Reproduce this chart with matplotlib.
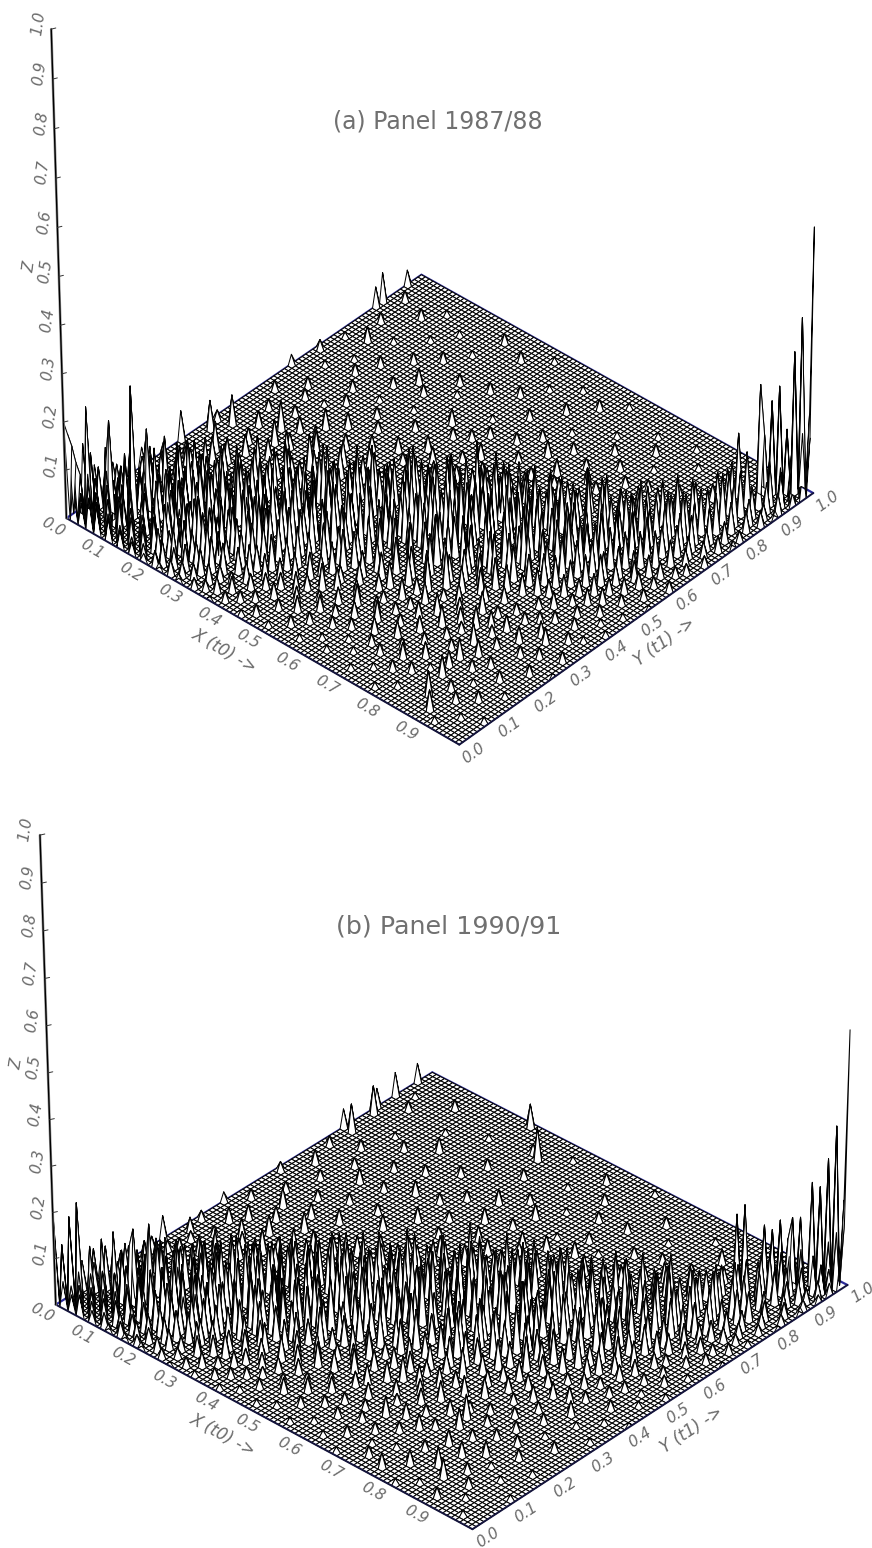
import numpy as np
import matplotlib
matplotlib.use('Agg')
import matplotlib.pyplot as plt
from mpl_toolkits.mplot3d import proj3d

plt.rcParams['font.family'] = ['DejaVu Sans']

FIG_W = 872
FIG_H = 1548
GRID_N = 101

x_tick_values = [0.0, 0.1, 0.2, 0.3, 0.4, 0.5, 0.6, 0.7, 0.8, 0.9]
y_tick_values = [0.0, 0.1, 0.2, 0.3, 0.4, 0.5, 0.6, 0.7, 0.8, 0.9, 1.0]
z_tick_values = [0.1, 0.2, 0.3, 0.4, 0.5, 0.6, 0.7, 0.8, 0.9, 1.0]

title_a = '(a) Panel 1987/88'
title_b = '(b) Panel 1990/91'

# each row: x cell, then pairs of y cell and height in hundredths
rows_a = [
    [0, 0,20, 1,17, 3,9, 5,13, 8,7, 13,5, 21,4, 32,6, 63,2, 87,4, 89,6, 96,3],
    [1, 1,15, 2,11, 6,11, 10,6, 17,8, 26,3, 41,2, 70,2],
    [2, 0,8, 2,9, 4,14, 7,8, 12,6, 19,4, 38,6, 76,1],
    [3, 1,6, 3,23, 5,7, 9,12, 15,6, 24,4, 55,2, 92,2],
    [4, 0,5, 2,10, 4,8, 7,13, 11,7, 18,9, 29,3, 42,6, 84,2],
    [5, 1,9, 3,6, 6,11, 8,6, 13,10, 21,5, 36,2, 67,1],
    [6, 0,7, 2,7, 6,20, 9,9, 14,6, 17,9, 27,4, 50,2, 78,3],
    [7, 1,6, 4,11, 7,8, 11,13, 16,8, 23,4, 34,6, 60,2],
    [8, 0,6, 3,9, 5,6, 8,13, 12,7, 19,11, 26,5, 45,3, 72,1],
    [9, 2,7, 6,8, 9,27, 13,9, 15,6, 22,8, 31,5, 57,2, 90,2],
    [10, 1,5, 4,10, 7,7, 11,9, 14,12, 20,6, 28,7, 40,3, 81,1],
    [11, 0,5, 3,8, 6,11, 11,18, 16,7, 24,9, 33,5, 52,2, 69,2],
    [12, 2,8, 5,6, 9,12, 13,8, 18,10, 25,6, 37,4, 47,6, 94,1],
    [13, 1,4, 4,9, 8,7, 12,11, 15,9, 21,7, 30,6, 58,1, 74,2],
    [14, 0,4, 3,7, 7,10, 10,6, 14,9, 19,13, 27,5, 43,5, 65,2],
    [15, 2,6, 5,8, 9,6, 15,15, 17,8, 23,8, 32,4, 49,3, 86,1],
    [16, 1,3, 4,6, 8,11, 12,7, 16,10, 22,6, 26,9, 39,4, 61,2],
    [17, 0,3, 3,5, 6,9, 10,12, 14,7, 19,9, 29,6, 44,3, 79,2],
    [18, 2,5, 5,8, 9,7, 13,10, 18,13, 24,7, 34,8, 53,4, 91,1],
    [19, 1,3, 4,7, 7,6, 11,11, 16,8, 21,10, 28,5, 41,6, 71,2],
    [20, 0,2, 6,9, 10,6, 14,12, 19,9, 23,6, 31,8, 48,4, 66,1],
    [21, 3,6, 8,9, 12,7, 17,11, 21,12, 26,8, 36,5, 56,3, 83,2],
    [22, 1,3, 5,5, 9,11, 13,8, 18,7, 24,13, 33,6, 46,5, 75,3],
    [23, 2,5, 7,7, 11,9, 15,13, 20,8, 27,9, 38,4, 62,2],
    [24, 0,2, 4,7, 8,10, 14,6, 19,11, 25,8, 30,7, 42,7, 88,1],
    [25, 3,4, 6,8, 10,11, 16,9, 21,13, 28,6, 35,8, 51,3, 73,2],
    [26, 1,3, 7,6, 12,8, 18,12, 23,7, 26,11, 37,5, 59,2, 95,2],
    [27, 4,5, 9,9, 13,6, 17,10, 22,8, 29,12, 40,6, 68,1],
    [28, 2,3, 6,5, 11,10, 15,7, 20,13, 25,9, 32,7, 47,5, 80,2],
    [29, 0,2, 8,8, 12,11, 19,8, 24,10, 30,14, 39,4, 54,3],
    [30, 3,3, 5,5, 10,6, 14,9, 21,11, 26,7, 34,9, 44,6, 77,1],
    [31, 7,7, 11,5, 16,12, 22,8, 27,11, 31,9, 41,5, 64,2],
    [32, 1,2, 9,4, 13,8, 18,10, 23,13, 29,7, 36,10, 50,4, 93,2],
    [33, 4,4, 8,6, 15,9, 20,7, 25,12, 33,8, 38,6, 57,3],
    [34, 2,2, 6,3, 12,7, 17,11, 24,9, 30,10, 35,13, 46,5, 82,2],
    [35, 10,5, 14,8, 19,9, 26,12, 31,7, 37,9, 43,4, 70,3],
    [36, 3,3, 7,2, 16,7, 21,10, 28,8, 34,14, 40,7, 55,2],
    [37, 0,1, 11,6, 13,5, 23,11, 29,13, 36,9, 42,6, 61,3, 97,1],
    [38, 5,3, 9,4, 18,8, 25,7, 32,11, 38,10, 45,8, 67,2],
    [39, 2,2, 15,7, 20,10, 27,12, 33,8, 39,13, 48,4, 85,2],
    [40, 8,3, 12,5, 22,9, 28,6, 35,10, 41,8, 47,6, 59,3, 76,1],
    [41, 4,2, 17,6, 24,11, 30,9, 36,12, 43,7, 52,3, 69,2],
    [42, 10,3, 14,4, 19,8, 26,10, 34,7, 40,14, 49,5, 90,1],
    [43, 6,2, 21,6, 28,13, 33,8, 38,10, 45,9, 56,3, 72,2],
    [44, 1,1, 12,3, 16,5, 25,9, 31,11, 37,8, 42,10, 50,7, 63,2],
    [45, 9,3, 23,8, 29,7, 35,13, 41,9, 47,11, 54,4, 81,2],
    [46, 3,2, 18,5, 27,10, 32,8, 39,12, 44,7, 51,5, 66,3],
    [47, 13,4, 20,4, 25,7, 34,9, 40,11, 46,13, 58,3, 94,1],
    [48, 7,2, 15,3, 22,6, 30,12, 37,8, 43,10, 49,8, 74,2],
    [49, 11,3, 24,8, 28,6, 36,11, 42,14, 48,9, 55,5, 87,2],
    [50, 2,1, 17,5, 26,7, 33,10, 39,8, 45,12, 53,6, 62,3],
    [51, 9,3, 21,3, 29,9, 35,7, 41,13, 47,8, 52,10, 78,2],
    [52, 14,2, 19,4, 31,8, 38,12, 44,7, 50,11, 57,5, 70,2],
    [53, 5,2, 25,5, 34,11, 40,9, 46,12, 51,7, 60,4, 92,2],
    [54, 12,3, 23,4, 28,6, 37,8, 43,10, 49,13, 56,6, 83,1],
    [55, 8,2, 16,3, 32,9, 39,12, 45,8, 52,11, 58,4, 75,3],
    [56, 20,3, 27,5, 35,7, 42,11, 48,9, 54,14, 63,3],
    [57, 3,1, 13,2, 30,7, 38,10, 44,12, 50,8, 55,9, 68,2, 96,1],
    [58, 18,4, 24,3, 33,9, 40,7, 47,13, 53,10, 60,6, 79,2],
    [59, 10,2, 26,5, 36,8, 43,11, 49,7, 56,12, 64,4],
    [60, 6,1, 15,3, 31,6, 39,9, 45,14, 51,8, 57,10, 72,3],
    [61, 22,2, 29,6, 37,10, 42,7, 48,11, 55,9, 62,5, 88,1],
    [62, 12,2, 19,3, 34,8, 41,12, 46,8, 52,13, 59,7, 69,2],
    [63, 4,1, 25,4, 32,6, 38,9, 44,11, 50,9, 58,11, 77,2],
    [64, 9,1, 17,4, 28,3, 36,7, 43,12, 49,10, 55,8, 61,6, 84,2],
    [65, 21,2, 30,7, 40,10, 47,8, 53,14, 60,9, 67,4],
    [66, 14,3, 24,2, 35,5, 41,8, 46,12, 52,7, 57,11, 74,3],
    [67, 7,1, 27,4, 33,8, 39,6, 45,11, 51,9, 58,12, 63,5, 93,1],
    [68, 11,2, 19,2, 37,6, 43,10, 49,13, 55,8, 61,9, 81,2],
    [69, 23,3, 30,2, 40,7, 47,9, 54,11, 59,7, 65,6, 73,2],
    [70, 3,1, 16,3, 34,5, 42,8, 50,12, 56,10, 62,8, 89,2],
    [71, 10,2, 26,4, 38,6, 45,11, 52,8, 58,13, 66,5],
    [72, 20,3, 31,4, 41,9, 48,7, 53,10, 60,11, 68,6, 78,2],
    [73, 6,1, 14,2, 36,5, 44,8, 50,11, 57,9, 63,7, 85,1],
    [74, 24,4, 29,3, 39,6, 47,12, 55,8, 61,10, 70,4],
    [75, 12,3, 18,2, 35,3, 43,7, 51,10, 58,7, 64,12, 95,1],
    [76, 8,2, 27,3, 40,5, 46,9, 54,12, 59,8, 67,9, 80,2],
    [77, 2,1, 22,2, 32,4, 49,8, 56,10, 62,13, 71,5],
    [78, 15,3, 25,2, 37,3, 44,6, 52,9, 60,8, 66,11, 75,4],
    [79, 10,2, 28,4, 41,4, 48,7, 55,6, 63,10, 69,7, 91,1],
    [80, 5,1, 20,2, 33,2, 46,6, 53,11, 58,9, 65,8, 73,5],
    [81, 13,1, 30,3, 43,5, 50,8, 57,7, 62,12, 70,6, 83,2],
    [82, 24,4, 36,2, 47,6, 54,10, 60,8, 67,9, 76,5],
    [83, 16,3, 19,4, 28,2, 44,3, 52,7, 59,11, 64,7, 72,8],
    [84, 13,4, 31,3, 40,2, 49,5, 56,9, 62,8, 69,11, 79,4],
    [85, 22,3, 35,2, 46,4, 54,7, 61,10, 66,7, 74,9],
    [86, 7,5, 26,2, 42,3, 51,6, 58,8, 64,12, 71,8, 82,4],
    [87, 18,2, 37,2, 48,3, 55,5, 63,9, 68,7, 76,10, 86,3],
    [88, 11,2, 30,3, 45,2, 53,6, 60,7, 66,11, 73,8, 80,7],
    [89, 4,4, 21,2, 39,2, 50,4, 57,6, 65,8, 71,10, 78,9, 88,6],
    [90, 15,1, 34,3, 47,3, 55,4, 62,7, 69,9, 75,8, 84,8, 90,13],
    [91, 9,2, 27,2, 43,2, 52,3, 59,5, 67,6, 73,10, 80,7, 87,9],
    [92, 2,1, 33,3, 49,3, 58,4, 64,7, 71,7, 77,9, 85,8, 94,22],
    [93, 19,2, 40,2, 54,3, 61,4, 69,6, 74,8, 82,10, 89,11, 94,12],
    [94, 12,2, 29,2, 46,2, 57,3, 66,5, 72,7, 79,8, 86,9, 95,19],
    [95, 6,1, 36,2, 51,2, 62,3, 70,4, 76,7, 83,9, 90,8, 96,22],
    [96, 24,2, 44,1, 59,2, 68,3, 74,4, 81,6, 87,6, 92,9, 97,13],
    [97, 16,1, 38,1, 55,2, 64,2, 72,3, 78,4, 85,5, 90,6, 94,7, 98,29],
    [98, 31,2, 48,1, 66,2, 75,3, 83,4, 88,3, 93,7, 96,9, 99,36],
    [99, 8,1, 42,1, 60,2, 70,2, 80,2, 86,3, 91,4, 95,5, 98,13, 100,16],
    [100, 26,1, 53,1, 77,2, 89,2, 94,3, 97,6, 99,12, 100,55],
]

rows_b = [
    [0, 0,21, 2,8, 4,10, 7,6, 12,5, 19,3, 28,5, 44,2, 76,4, 85,4, 90,5, 96,4],
    [1, 1,13, 3,7, 5,9, 9,8, 16,4, 24,3, 37,2, 58,2, 83,6],
    [2, 0,6, 2,19, 4,8, 8,6, 13,6, 21,4, 33,3, 76,6, 70,2],
    [3, 1,5, 3,22, 6,7, 10,9, 17,6, 26,2, 48,2, 92,1],
    [4, 0,4, 2,8, 5,12, 8,7, 14,8, 22,5, 31,2, 64,3],
    [5, 1,6, 4,7, 7,9, 11,6, 18,7, 27,3, 40,3, 88,2],
    [6, 0,5, 3,5, 6,14, 9,10, 15,7, 20,6, 35,2, 54,2],
    [7, 2,5, 5,8, 8,15, 12,9, 16,6, 24,5, 43,3, 73,2],
    [8, 1,4, 4,9, 7,7, 9,11, 13,8, 19,8, 29,4, 61,2],
    [9, 0,3, 3,6, 6,8, 10,12, 14,8, 22,6, 32,3, 50,4, 80,1],
    [10, 2,5, 5,9, 8,6, 10,16, 17,9, 25,5, 38,4, 68,2],
    [11, 1,3, 4,6, 7,10, 12,8, 15,11, 21,7, 30,6, 46,3, 94,2],
    [12, 3,5, 6,7, 9,9, 12,17, 18,8, 26,6, 36,3, 56,2],
    [13, 0,2, 5,7, 8,10, 11,7, 15,13, 20,9, 28,5, 42,4, 78,2],
    [14, 2,4, 7,9, 10,8, 14,10, 17,7, 23,9, 33,4, 65,3],
    [15, 1,3, 4,5, 9,10, 12,9, 16,12, 22,7, 30,7, 51,3, 87,1],
    [16, 3,4, 6,8, 11,9, 15,8, 19,11, 25,7, 37,5, 72,2],
    [17, 0,2, 5,6, 8,7, 13,11, 18,9, 24,9, 34,5, 47,4, 59,2],
    [18, 2,4, 7,8, 10,6, 14,10, 20,12, 27,7, 39,3, 82,3],
    [19, 1,2, 4,5, 9,9, 16,11, 21,8, 26,10, 32,6, 66,2],
    [20, 3,3, 6,6, 12,10, 17,7, 22,12, 29,7, 41,5, 53,3],
    [21, 0,2, 8,8, 11,6, 15,9, 20,11, 28,9, 35,5, 75,2],
    [22, 5,5, 9,7, 13,10, 18,8, 24,13, 30,8, 44,4, 91,1],
    [23, 2,3, 7,6, 12,7, 16,12, 21,9, 27,10, 37,6, 60,2],
    [24, 4,4, 10,8, 14,9, 19,11, 25,9, 31,9, 40,5, 69,3],
    [25, 1,2, 8,6, 13,10, 17,8, 23,13, 29,10, 36,7, 99,5],
    [26, 5,3, 11,8, 15,7, 20,12, 26,10, 33,8, 45,4, 79,2],
    [27, 3,2, 9,5, 14,10, 18,9, 24,11, 30,12, 38,6, 57,3],
    [28, 0,1, 7,6, 12,7, 21,11, 27,8, 32,11, 42,6, 84,2],
    [29, 6,4, 10,5, 16,10, 22,8, 28,13, 35,8, 48,4, 70,2],
    [30, 2,2, 13,7, 19,11, 25,9, 30,11, 37,9, 44,7, 63,3],
    [31, 8,4, 15,8, 21,7, 26,12, 33,10, 39,7, 52,3, 93,2],
    [32, 4,3, 11,4, 18,10, 23,11, 29,9, 34,13, 46,5, 74,2],
    [33, 1,1, 9,5, 14,6, 24,9, 31,12, 36,9, 41,8, 92,7],
    [34, 6,2, 17,8, 20,10, 27,8, 32,11, 38,12, 49,4, 67,2],
    [35, 12,5, 16,5, 22,9, 28,11, 35,14, 40,8, 55,3, 86,2],
    [36, 3,2, 8,3, 19,7, 25,10, 30,8, 37,11, 44,6, 62,2],
    [37, 10,3, 15,6, 23,11, 29,9, 34,9, 41,12, 50,5, 77,3],
    [38, 5,2, 13,4, 21,8, 27,11, 33,12, 39,9, 47,7, 96,1],
    [39, 1,1, 18,6, 24,10, 30,8, 36,11, 43,12, 53,4, 71,3],
    [40, 7,2, 11,3, 20,7, 26,9, 32,13, 38,10, 45,8, 58,4],
    [41, 15,5, 22,5, 28,11, 34,9, 40,11, 46,7, 55,5, 81,2],
    [42, 3,1, 9,2, 18,5, 25,8, 31,10, 37,13, 43,9, 66,3],
    [43, 12,3, 23,8, 29,6, 35,11, 41,8, 48,11, 56,5, 89,1],
    [44, 6,2, 16,4, 27,7, 33,12, 39,9, 45,14, 51,7, 73,2],
    [45, 20,5, 24,4, 30,9, 36,8, 42,12, 49,9, 59,4, 78,3],
    [46, 10,2, 14,3, 26,6, 32,11, 38,7, 44,10, 52,10, 64,3],
    [47, 2,1, 18,5, 29,8, 35,10, 41,13, 47,8, 54,6, 95,2],
    [48, 8,3, 22,3, 31,7, 37,12, 43,9, 50,12, 60,5, 83,1],
    [49, 13,2, 25,6, 33,10, 39,8, 46,11, 52,8, 57,6, 70,3],
    [50, 4,1, 19,4, 28,5, 36,9, 42,12, 48,10, 55,13, 68,2],
    [51, 11,3, 23,4, 30,8, 38,7, 44,13, 51,9, 62,4, 90,2],
    [52, 16,2, 26,6, 34,9, 40,12, 47,8, 53,11, 59,6, 76,1],
    [53, 7,2, 21,5, 32,6, 37,10, 45,9, 49,13, 56,7, 72,3],
    [54, 14,3, 28,3, 35,10, 41,7, 50,12, 54,9, 63,4, 85,2],
    [55, 2,1, 24,4, 31,7, 39,11, 46,10, 52,14, 58,8, 67,3],
    [56, 10,2, 18,3, 34,8, 43,9, 48,12, 55,9, 61,7, 98,1],
    [57, 20,4, 27,4, 37,6, 44,11, 51,8, 57,13, 65,5, 79,2],
    [58, 5,1, 13,2, 30,5, 40,10, 47,9, 53,12, 60,9, 74,3],
    [59, 23,4, 33,5, 42,7, 49,13, 55,8, 62,10, 69,3],
    [60, 9,2, 17,3, 28,4, 38,8, 45,11, 52,9, 58,12, 86,2],
    [61, 25,5, 35,7, 41,9, 48,8, 54,13, 60,9, 67,6, 77,1],
    [62, 3,1, 14,2, 31,5, 39,8, 46,12, 51,7, 57,11, 64,7],
    [63, 21,3, 29,3, 37,9, 44,7, 50,11, 56,13, 62,8, 71,4],
    [64, 11,2, 26,4, 34,6, 42,10, 49,8, 55,11, 61,9, 92,2],
    [65, 6,2, 19,2, 32,4, 40,8, 47,13, 53,9, 59,12, 68,5],
    [66, 15,4, 24,3, 36,7, 44,8, 51,10, 58,9, 63,11, 81,2],
    [67, 1,1, 28,4, 38,5, 46,10, 54,7, 60,13, 66,8, 75,3],
    [68, 10,2, 22,3, 33,6, 41,9, 49,12, 56,9, 62,7, 88,1],
    [69, 17,3, 30,3, 43,7, 50,8, 57,12, 64,9, 70,5],
    [70, 7,1, 25,4, 36,4, 45,10, 52,7, 59,11, 65,10, 73,4],
    [71, 13,2, 20,2, 39,6, 47,7, 54,13, 61,8, 67,9, 83,2],
    [72, 4,2, 29,4, 41,5, 48,11, 56,8, 63,10, 69,7, 77,3],
    [73, 16,3, 34,3, 44,8, 51,6, 58,12, 65,7, 71,8],
    [74, 9,1, 23,3, 37,3, 46,6, 53,10, 60,9, 67,12, 94,1],
    [75, 18,2, 31,4, 42,7, 49,9, 55,7, 62,11, 70,6, 79,4],
    [76, 3,3, 26,2, 39,4, 45,5, 57,9, 64,8, 72,10],
    [77, 24,5, 35,3, 47,7, 54,8, 60,7, 66,12, 74,6, 84,2],
    [78, 12,2, 21,4, 43,4, 50,6, 58,10, 63,7, 69,9, 76,6],
    [79, 7,3, 28,2, 38,3, 52,8, 59,7, 65,11, 72,7, 90,3],
    [80, 16,3, 33,2, 46,5, 55,9, 61,10, 68,8, 75,10],
    [81, 1,1, 25,2, 41,3, 49,7, 57,6, 63,11, 70,9, 79,5],
    [82, 20,2, 36,3, 51,4, 59,8, 66,7, 72,10, 78,7],
    [83, 10,4, 30,2, 44,2, 53,6, 61,9, 68,11, 74,7, 86,3],
    [84, 4,1, 15,3, 39,3, 48,4, 56,7, 63,8, 70,12, 80,6],
    [85, 23,2, 34,2, 50,5, 58,5, 65,10, 71,7, 77,8, 83,6],
    [86, 8,4, 27,2, 45,3, 54,6, 62,7, 69,10, 75,8, 86,16],
    [87, 18,3, 40,3, 52,4, 60,6, 67,8, 73,11, 80,7, 87,18],
    [88, 12,2, 32,2, 47,2, 56,5, 64,6, 71,9, 78,10, 84,7],
    [89, 3,2, 24,2, 42,2, 51,3, 61,5, 68,7, 76,10, 82,9, 90,13],
    [90, 16,1, 37,3, 54,3, 63,4, 70,7, 74,8, 84,9, 91,12, 88,8],
    [91, 9,2, 29,1, 46,2, 58,3, 66,5, 72,6, 79,8, 86,8, 92,14],
    [92, 21,2, 49,2, 60,2, 69,4, 75,6, 81,8, 88,9, 93,10],
    [93, 6,1, 35,1, 53,2, 64,3, 71,4, 78,7, 84,8, 90,9, 93,15],
    [94, 14,1, 43,2, 57,2, 67,3, 74,5, 80,6, 87,7, 91,8, 94,15],
    [95, 27,2, 50,1, 62,2, 72,3, 77,4, 83,5, 89,7, 93,9, 96,22],
    [96, 2,1, 39,1, 55,2, 68,2, 75,3, 82,4, 88,5, 92,6, 97,21],
    [97, 19,1, 47,1, 65,2, 73,2, 80,3, 86,4, 90,5, 94,8, 98,27],
    [98, 33,1, 59,1, 70,2, 78,2, 85,3, 91,3, 95,6, 97,10, 99,34],
    [99, 11,1, 52,1, 74,1, 83,2, 89,2, 93,4, 96,5, 98,12, 100,18],
    [100, 41,1, 66,1, 81,1, 87,2, 92,2, 95,3, 98,7, 99,14, 100,55],
]

# camera of each panel: elev, azim, roll, focal, box y, box z, zoom, left px, bottom px
camera_a = (38.189, -47.132, 0.762, 3.555, 0.990, 1.158, 1.090, -10.968, 836.311)
camera_b = (34.192, -46.909, 0.667, 2.633, 0.979, 0.990, 1.094, 1.363, 37.143)


def build_surface(rows):
    z = np.zeros((GRID_N, GRID_N))
    for row in rows:
        for y_cell, height in zip(row[1::2], row[2::2]):
            z[y_cell, row[0]] = height / 100
    return z


def axis_line(ax, xs, ys, zs, color, width, order):
    line, = ax.plot(xs, ys, zs, color=color, linewidth=width, zorder=order, solid_capstyle='round')
    line.set_clip_on(False)


def to_pixels(ax, point):
    xs, ys, _ = proj3d.proj_transform(point[0], point[1], point[2], ax.get_proj())
    return ax.transData.transform((xs, ys))


def axis_text(fig, ax, point, label, direction, **style):
    # a figure text at the projected place, turned along the given 3d direction
    start = to_pixels(ax, point)
    end = to_pixels(ax, np.add(point, np.multiply(direction, 0.1)))
    angle = np.degrees(np.arctan2(end[1] - start[1], end[0] - start[0]))
    fig.text(start[0] / FIG_W, start[1] / FIG_H, label, rotation=angle, **style)


def draw_panel(fig, rows, camera):
    elev, azim, roll, focal, box_y, box_z, zoom, left, bottom = camera
    ax = fig.add_axes([left / FIG_W, bottom / FIG_H, 1, FIG_W / FIG_H], projection='3d')
    ax.computed_zorder = False
    ax.patch.set_visible(False)
    ax.view_init(elev, azim, roll)
    ax.set_proj_type('persp', focal_length=focal)
    ax.set_box_aspect((1, box_y, box_z), zoom=zoom)

    grid = np.linspace(0, 1, GRID_N)
    xx, yy = np.meshgrid(grid, grid)
    surf = ax.plot_surface(xx, yy, build_surface(rows), rstride=1, cstride=1, color='white',
                           edgecolor='black', linewidth=0.72, shade=False, antialiased=True,
                           zorder=2)
    surf.set_clip_on(False)

    ax.set_xlim(0, 1)
    ax.set_ylim(0, 1)
    ax.set_zlim(0, 1)
    ax.set_xticks([])
    ax.set_yticks([])
    ax.set_zticks([])
    ax.apply_aspect()

    axis_line(ax, [0, 0], [0, 1], [0, 0], '#2b2b9a', 1.6, 1)
    axis_line(ax, [0, 1], [1, 1], [0, 0], '#2b2b9a', 1.6, 1)
    axis_line(ax, [0, 1], [0, 0], [0, 0], '#14143c', 1.4, 3)
    axis_line(ax, [1, 1], [0, 1], [0, 0], '#14143c', 1.4, 3)
    axis_line(ax, [0, 0], [0, 0], [0, 1], '#9a9a9a', 1.9, 3)
    axis_line(ax, [0, 0], [0, 0], [0, 1], 'black', 1.0, 4)

    text_style = dict(color='#6a6a6a', fontsize=11, style='italic', ha='center', va='center',
                      rotation_mode='anchor')
    z_dir = (0.114, 0.114, 1)
    for value in z_tick_values:
        axis_line(ax, [0, 0.006], [0, 0.006], [value, value + 0.002], '#333333', 0.7, 4)
        axis_text(fig, ax, (-0.017, -0.017, value + 0.012), '%.1f' % value, z_dir, **text_style)
    for value in x_tick_values:
        axis_text(fig, ax, (value, -0.036, 0), '%.1f' % value, (1, 0, 0), **text_style)
    for value in y_tick_values:
        axis_text(fig, ax, (1.036, value, 0), '%.1f' % value, (0, 1, 0), **text_style)
    title_style = dict(text_style, fontsize=12)
    axis_text(fig, ax, (0.49, -0.09, 0), 'X (t0) ->', (1, 0, 0), **title_style)
    axis_text(fig, ax, (1.085, 0.48, 0), 'Y (t1) ->', (0, 1, 0), **title_style)
    axis_text(fig, ax, (-0.038, -0.038, 0.52), 'Z', z_dir, **text_style)
    ax.set_axis_off()
    return ax


fig = plt.figure(figsize=(FIG_W / 100, FIG_H / 100), dpi=100)
draw_panel(fig, rows_a, camera_a)
draw_panel(fig, rows_b, camera_b)
fig.text(438 / FIG_W, 1 - 122 / FIG_H, title_a, color='#707070', fontsize=17, ha='center', va='center')
fig.text(449 / FIG_W, 1 - 927 / FIG_H, title_b, color='#707070', fontsize=18.3, ha='center', va='center')
fig.savefig('out.png', dpi=100)
